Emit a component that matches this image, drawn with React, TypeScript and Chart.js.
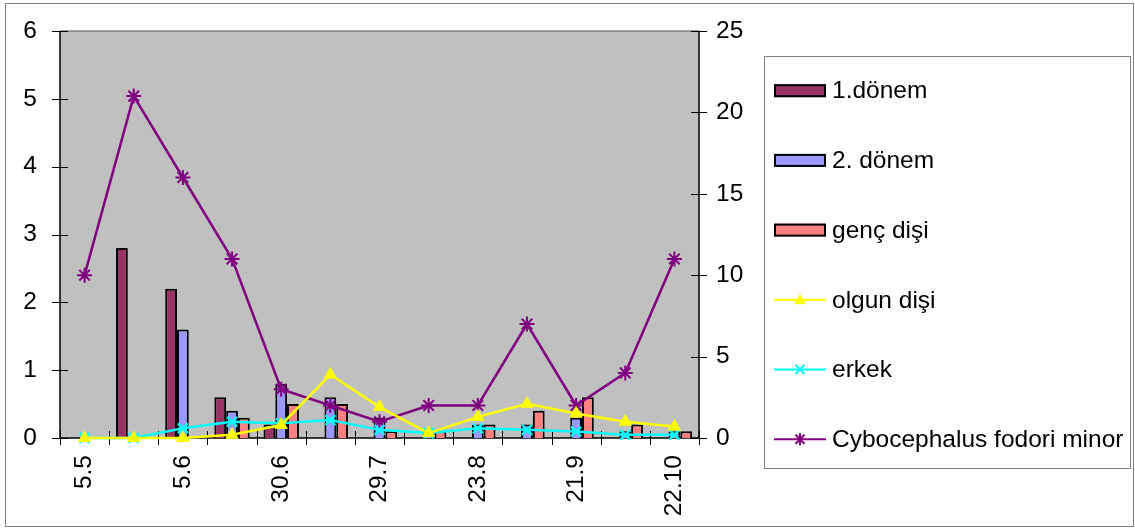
import React, { useEffect, useRef } from 'react';
import { Chart, registerables } from 'chart.js';

Chart.register(...registerables);

// ---- data ----
const categories = ['5.5', '', '5.6', '', '30.6', '', '29.7', '', '23.8', '', '21.9', '', '22.10'];
const donem1 = [0, 2.8, 2.2, 0.6, 0.2, 0, 0, 0, 0, 0, 0, 0, 0];
const donem2 = [0, 0, 1.6, 0.4, 0.8, 0.6, 0.3, 0.1, 0.2, 0.2, 0.3, 0.1, 0.1];
const gencDisi = [0, 0, 0, 0.3, 0.5, 0.5, 0.1, 0.1, 0.2, 0.4, 0.6, 0.2, 0.1];
const olgunDisi = [0, 0, 0, 0.2, 0.8, 3.9, 1.9, 0.3, 1.3, 2.1, 1.5, 1.0, 0.7];
const erkek = [0, 0, 0.6, 1.0, 0.9, 1.1, 0.5, 0.3, 0.6, 0.5, 0.4, 0.2, 0.2];
const cybocephalus = [10, 21, 16, 11, 3, 2, 1, 2, 2, 7, 2, 4, 11];
const leftTickValues = [0, 1, 2, 3, 4, 5, 6];
const rightTickValues = [0, 5, 10, 15, 20, 25];

const FONT = '"Liberation Sans", Arial, sans-serif';
const FONT_SIZE = 24.5;
const PLOT_TOP = 31;

const nz = (arr: number[]) => arr.map((v) => (v === 0 ? null : v));

type LegendItem = { label: string; kind: 'bar' | 'line'; color: string; marker?: string };
const legendItems: LegendItem[] = [
  { label: '1.dönem', kind: 'bar', color: '#993366' },
  { label: '2. dönem', kind: 'bar', color: '#9999FF' },
  { label: 'genç dişi', kind: 'bar', color: '#FF8080' },
  { label: 'olgun dişi', kind: 'line', color: '#FFFF00', marker: 'triangle' },
  { label: 'erkek', kind: 'line', color: '#00FFFF', marker: 'crossRot' },
  { label: 'Cybocephalus fodori minor', kind: 'line', color: '#800080', marker: 'star' },
];

function drawMarker(ctx: CanvasRenderingContext2D, type: string, x: number, y: number, r: number, color: string) {
  ctx.save();
  ctx.strokeStyle = color;
  ctx.fillStyle = color;
  ctx.lineWidth = 2;
  ctx.beginPath();
  if (type === 'triangle') {
    ctx.moveTo(x, y - r);
    ctx.lineTo(x + r, y + r * 0.75);
    ctx.lineTo(x - r, y + r * 0.75);
    ctx.closePath();
    ctx.fill();
  } else {
    const d = r * 0.75;
    ctx.moveTo(x - d, y - d);
    ctx.lineTo(x + d, y + d);
    ctx.moveTo(x - d, y + d);
    ctx.lineTo(x + d, y - d);
    if (type === 'star') {
      ctx.moveTo(x, y - r);
      ctx.lineTo(x, y + r);
    }
    ctx.stroke();
  }
  ctx.restore();
}

const chromePlugin = {
  id: 'chrome',
  beforeDraw(chart: any) {
    const { ctx, chartArea: a } = chart;
    ctx.save();
    ctx.fillStyle = '#FFFFFF';
    ctx.fillRect(0, 0, chart.width, chart.height);
    ctx.strokeStyle = '#808080';
    ctx.lineWidth = 1;
    ctx.strokeRect(5.5, 3.5, chart.width - 7, chart.height - 6);
    ctx.fillStyle = '#C0C0C0';
    ctx.fillRect(a.left, a.top, a.right - a.left, a.bottom - a.top);
    ctx.strokeStyle = '#808080';
    ctx.lineWidth = 1.5;
    ctx.beginPath();
    ctx.moveTo(a.left, a.top);
    ctx.lineTo(a.right, a.top);
    ctx.stroke();
    ctx.restore();
  },
  beforeDatasetsDraw(chart: any) {
    const { ctx, chartArea: a, scales } = chart;
    ctx.save();
    ctx.strokeStyle = '#000000';
    ctx.lineWidth = 1.5;
    ctx.beginPath();
    ctx.moveTo(a.left, a.top);
    ctx.lineTo(a.left, a.bottom);
    ctx.moveTo(a.right, a.top);
    ctx.lineTo(a.right, a.bottom);
    ctx.moveTo(a.left, a.bottom);
    ctx.lineTo(a.right, a.bottom);
    ctx.stroke();
    ctx.lineWidth = 1;
    ctx.beginPath();
    leftTickValues.forEach((v) => {
      const y = Math.round(scales.y.getPixelForValue(v)) + 0.5;
      ctx.moveTo(a.left - 8, y);
      ctx.lineTo(a.left + 8, y);
    });
    rightTickValues.forEach((v) => {
      const y = Math.round(scales.y1.getPixelForValue(v)) + 0.5;
      ctx.moveTo(a.right - 8, y);
      ctx.lineTo(a.right + 8, y);
    });
    const xs = scales.x;
    const catW = xs.getPixelForValue(1) - xs.getPixelForValue(0);
    for (let i = 0; i <= categories.length; i++) {
      const x = Math.round(xs.getPixelForValue(i) - catW / 2) + 0.5;
      ctx.moveTo(x, a.bottom - 7);
      ctx.lineTo(x, a.bottom + 7);
    }
    ctx.stroke();
    ctx.restore();
  },
  afterDraw(chart: any) {
    const { ctx } = chart;
    ctx.save();
    ctx.strokeStyle = '#808080';
    ctx.lineWidth = 1;
    ctx.strokeRect(764.5, 56.5, 366, 412);
    ctx.font = `${FONT_SIZE}px ${FONT}`;
    ctx.textBaseline = 'middle';
    ctx.textAlign = 'left';
    legendItems.forEach((item, i) => {
      const y = 90.7 + i * 69.7;
      if (item.kind === 'bar') {
        ctx.fillStyle = item.color;
        ctx.fillRect(774, y - 6.5, 52, 13);
        ctx.strokeStyle = '#000000';
        ctx.lineWidth = 2;
        ctx.strokeRect(775, y - 5.5, 50, 11);
      } else {
        ctx.strokeStyle = item.color;
        ctx.lineWidth = 2;
        ctx.beginPath();
        ctx.moveTo(774, y);
        ctx.lineTo(826, y);
        ctx.stroke();
        drawMarker(ctx, item.marker as string, 800, y, 6, item.color);
      }
      ctx.fillStyle = '#000000';
      ctx.fillText(item.label, 832, y + 1);
    });
    ctx.restore();
  },
};

export default function App() {
  const canvasRef = useRef<HTMLCanvasElement | null>(null);

  useEffect(() => {
    if (!canvasRef.current) return;
    const chart = new Chart(canvasRef.current, {
      type: 'bar',
      data: {
        labels: categories,
        datasets: [
          {
            type: 'line',
            label: 'olgun dişi',
            data: olgunDisi,
            yAxisID: 'y1',
            borderColor: '#FFFF00',
            backgroundColor: '#FFFF00',
            borderWidth: 2.5,
            pointStyle: 'triangle',
            pointRadius: 7,
            pointBorderWidth: 1,
            tension: 0,
            clip: false,
            order: 1,
          } as any,
          {
            type: 'line',
            label: 'erkek',
            data: erkek,
            yAxisID: 'y1',
            borderColor: '#00FFFF',
            backgroundColor: '#00FFFF',
            borderWidth: 2.5,
            pointStyle: 'crossRot',
            pointRadius: 7,
            pointBorderWidth: 2.5,
            tension: 0,
            clip: false,
            order: 1,
          } as any,
          {
            type: 'line',
            label: 'Cybocephalus fodori minor',
            data: cybocephalus,
            yAxisID: 'y1',
            borderColor: '#800080',
            backgroundColor: '#800080',
            borderWidth: 2.5,
            pointStyle: 'star',
            pointRadius: 7.5,
            pointBorderWidth: 2,
            tension: 0,
            clip: false,
            order: 1,
          } as any,
          {
            type: 'bar',
            label: '1.dönem',
            data: nz(donem1),
            yAxisID: 'y',
            backgroundColor: '#993366',
            borderColor: '#000000',
            borderWidth: 2,
            order: 2,
          } as any,
          {
            type: 'bar',
            label: '2. dönem',
            data: nz(donem2),
            yAxisID: 'y',
            backgroundColor: '#9999FF',
            borderColor: '#000000',
            borderWidth: 2,
            order: 2,
          } as any,
          {
            type: 'bar',
            label: 'genç dişi',
            data: nz(gencDisi),
            yAxisID: 'y',
            backgroundColor: '#FF8080',
            borderColor: '#000000',
            borderWidth: 2,
            order: 2,
          } as any,
        ],
      },
      options: {
        responsive: false,
        animation: false,
        devicePixelRatio: 1,
        layout: { padding: { top: 0, left: 0, right: 0, bottom: 0 } },
        datasets: {
          bar: { categoryPercentage: 0.72, barPercentage: 1.0 },
        } as any,
        plugins: {
          legend: { display: false },
          tooltip: { enabled: false },
          title: { display: false },
        },
        scales: {
          x: {
            type: 'category',
            offset: true,
            grid: { display: false, drawTicks: false },
            border: { display: false },
            ticks: {
              autoSkip: false,
              minRotation: 90,
              maxRotation: 90,
              padding: 17,
              color: '#000000',
              font: { family: FONT, size: FONT_SIZE },
            },
            afterFit: (s: any) => {
              s.height = 529 - 438;
            },
          },
          y: {
            position: 'left',
            min: 0,
            max: 6,
            grid: { display: false, drawTicks: false },
            border: { display: false },
            ticks: {
              stepSize: 1,
              padding: 23,
              color: '#000000',
              font: { family: FONT, size: FONT_SIZE },
            },
            afterFit: (s: any) => {
              s.width = 60;
              s.paddingTop = PLOT_TOP;
            },
          },
          y1: {
            position: 'right',
            min: 0,
            max: 25,
            grid: { display: false, drawTicks: false },
            border: { display: false },
            ticks: {
              stepSize: 5,
              padding: 17,
              color: '#000000',
              font: { family: FONT, size: FONT_SIZE },
            },
            afterFit: (s: any) => {
              s.width = 1135 - 699;
              s.paddingTop = PLOT_TOP;
            },
          },
        },
      },
      plugins: [chromePlugin],
    });
    return () => chart.destroy();
  }, []);

  return (
    <div style={{ position: 'absolute', left: 0, top: 0, width: 1135, height: 529 }}>
      <canvas ref={canvasRef} width={1135} height={529} style={{ display: 'block' }} />
    </div>
  );
}
